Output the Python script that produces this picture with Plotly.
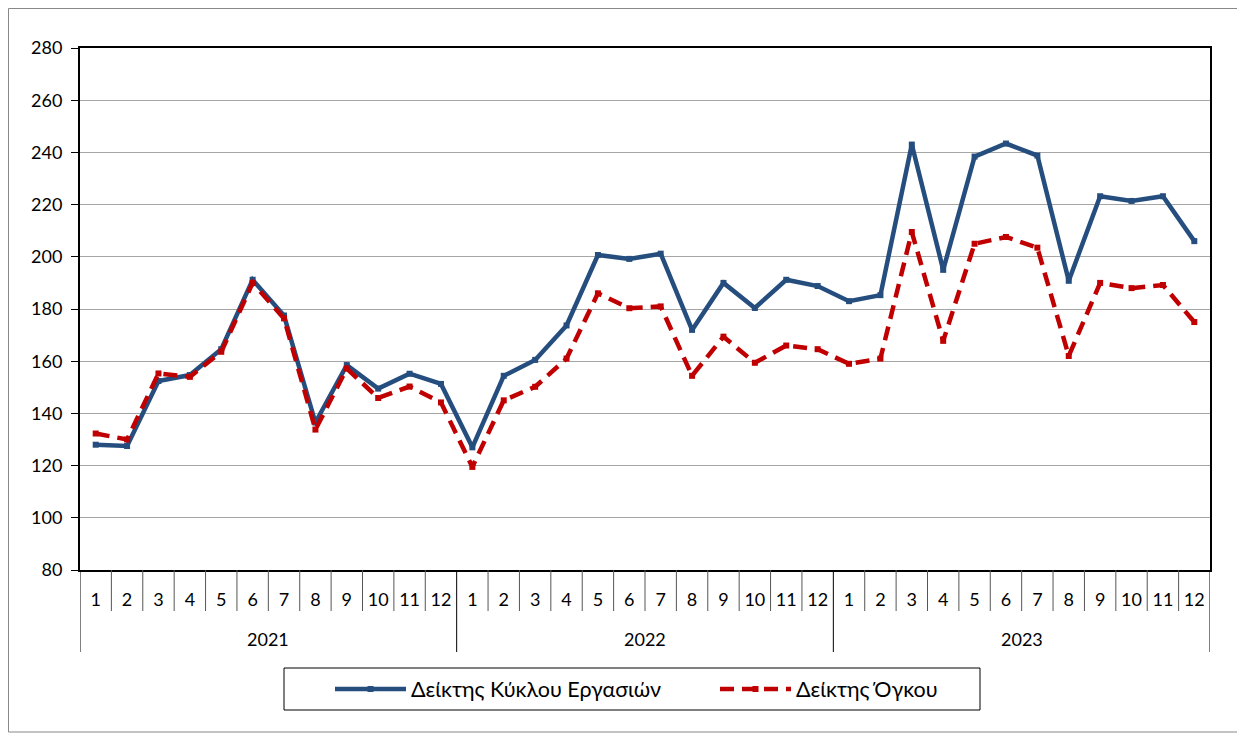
import plotly.graph_objects as go

years = ["2021", "2022", "2023"]
months = [str(m) for m in range(1, 13)]

turnover = [128, 127.5, 152.4, 154.7, 164.6, 191.2, 177.5, 136.5, 158.5, 149.5, 155.2, 151.3,
            127, 154.4, 160.5, 173.7, 200.7, 199.2, 201.2, 172, 190, 180.4, 191.2, 188.8,
            183, 185.3, 243, 195, 238.4, 243.4, 238.8, 190.8, 223.2, 221.4, 223.2, 206]
volume = [132.3, 130, 155.3, 154, 163.6, 190, 176.4, 133.8, 157.2, 145.9, 150.3, 144.2,
          119.5, 145, 150.2, 161, 186, 180.3, 181, 154.4, 169.4, 159.4, 166, 164.6,
          159, 161, 209.5, 167.8, 205, 207.6, 203.5, 162, 190, 188, 189.2, 175]

name1 = "Δείκτης Κύκλου Εργασιών"
name2 = "Δείκτης Όγκου"

n = len(years) * len(months)
xs = list(range(n))
ticktext = [m for _ in years for m in months]

OFF = 8
W, H = 1245 - OFF, 733 - OFF
L, R, T, B = 80, 1210, 48, 570
pw, ph = R - L, B - T


def px_x(px):
    return (px - L) / pw


def px_y(py):
    return (B - py) / ph


fig = go.Figure()
fig.add_trace(go.Scatter(
    x=xs, y=turnover, name=name1, mode="lines+markers",
    line=dict(color="#254E7F", width=4.5),
    marker=dict(symbol="square", size=6, color="#254E7F"),
))
fig.add_trace(go.Scatter(
    x=xs, y=volume, name=name2, mode="lines+markers",
    line=dict(color="#C00000", width=4.5, dash="14px,8px"),
    marker=dict(symbol="square", size=6, color="#C00000"),
))

shapes = []
for i in range(n + 1):
    is_year = (i % len(months) == 0)
    shapes.append(dict(type="line", xref="x", yref="paper",
                       x0=i - 0.5, x1=i - 0.5, y0=0,
                       y1=px_y(652) if is_year else px_y(611),
                       line=dict(color="#000000" if is_year else "#555555", width=1)))
# outer chart border
shapes.append(dict(type="rect", xref="paper", yref="paper",
                   x0=px_x(OFF + 0.5), x1=px_x(1243), y0=px_y(732), y1=px_y(OFF + 0.5),
                   line=dict(color="#888888", width=1)))
# legend frame
shapes.append(dict(type="rect", xref="paper", yref="paper",
                   x0=px_x(284), x1=px_x(980), y0=px_y(710), y1=px_y(668),
                   line=dict(color="#000000", width=1)))

annotations = []
for k, yr in enumerate(years):
    annotations.append(dict(x=k * len(months) + (len(months) - 1) / 2, y=px_y(639),
                            xref="x", yref="paper", text=yr, showarrow=False,
                            font=dict(size=18, color="#000000"),
                            xanchor="center", yanchor="middle"))

fig.update_layout(
    width=W, height=H,
    margin=dict(l=L - OFF, r=1245 - R, t=T - OFF, b=733 - B),
    paper_bgcolor="white", plot_bgcolor="white",
    font=dict(family="Lato, Carlito, Calibri, sans-serif", size=18, color="#000000"),
    shapes=shapes, annotations=annotations,
    showlegend=True,
    legend=dict(orientation="h", x=px_x(330), y=px_y(689), xanchor="left", yanchor="middle",
                borderwidth=0, bgcolor="rgba(0,0,0,0)",
                font=dict(size=21.5), itemwidth=71, entrywidth=299),
)
fig.update_xaxes(range=[-0.5, n - 0.5], tickmode="array", tickvals=xs, ticktext=ticktext,
                 showgrid=False, ticks="", ticklabelstandoff=12,
                 showline=True, linecolor="#000000", linewidth=2, mirror=True,
                 zeroline=False, tickfont=dict(size=18))
fig.update_yaxes(range=[80, 280], dtick=20, tick0=80, showgrid=True, gridcolor="#A6A6A6",
                 gridwidth=1, ticks="outside", ticklen=7, tickcolor="#000000",
                 showline=True, linecolor="#000000", linewidth=2, mirror=True,
                 zeroline=False, tickfont=dict(size=18), ticklabelstandoff=5)

fig.write_html("out.html")
